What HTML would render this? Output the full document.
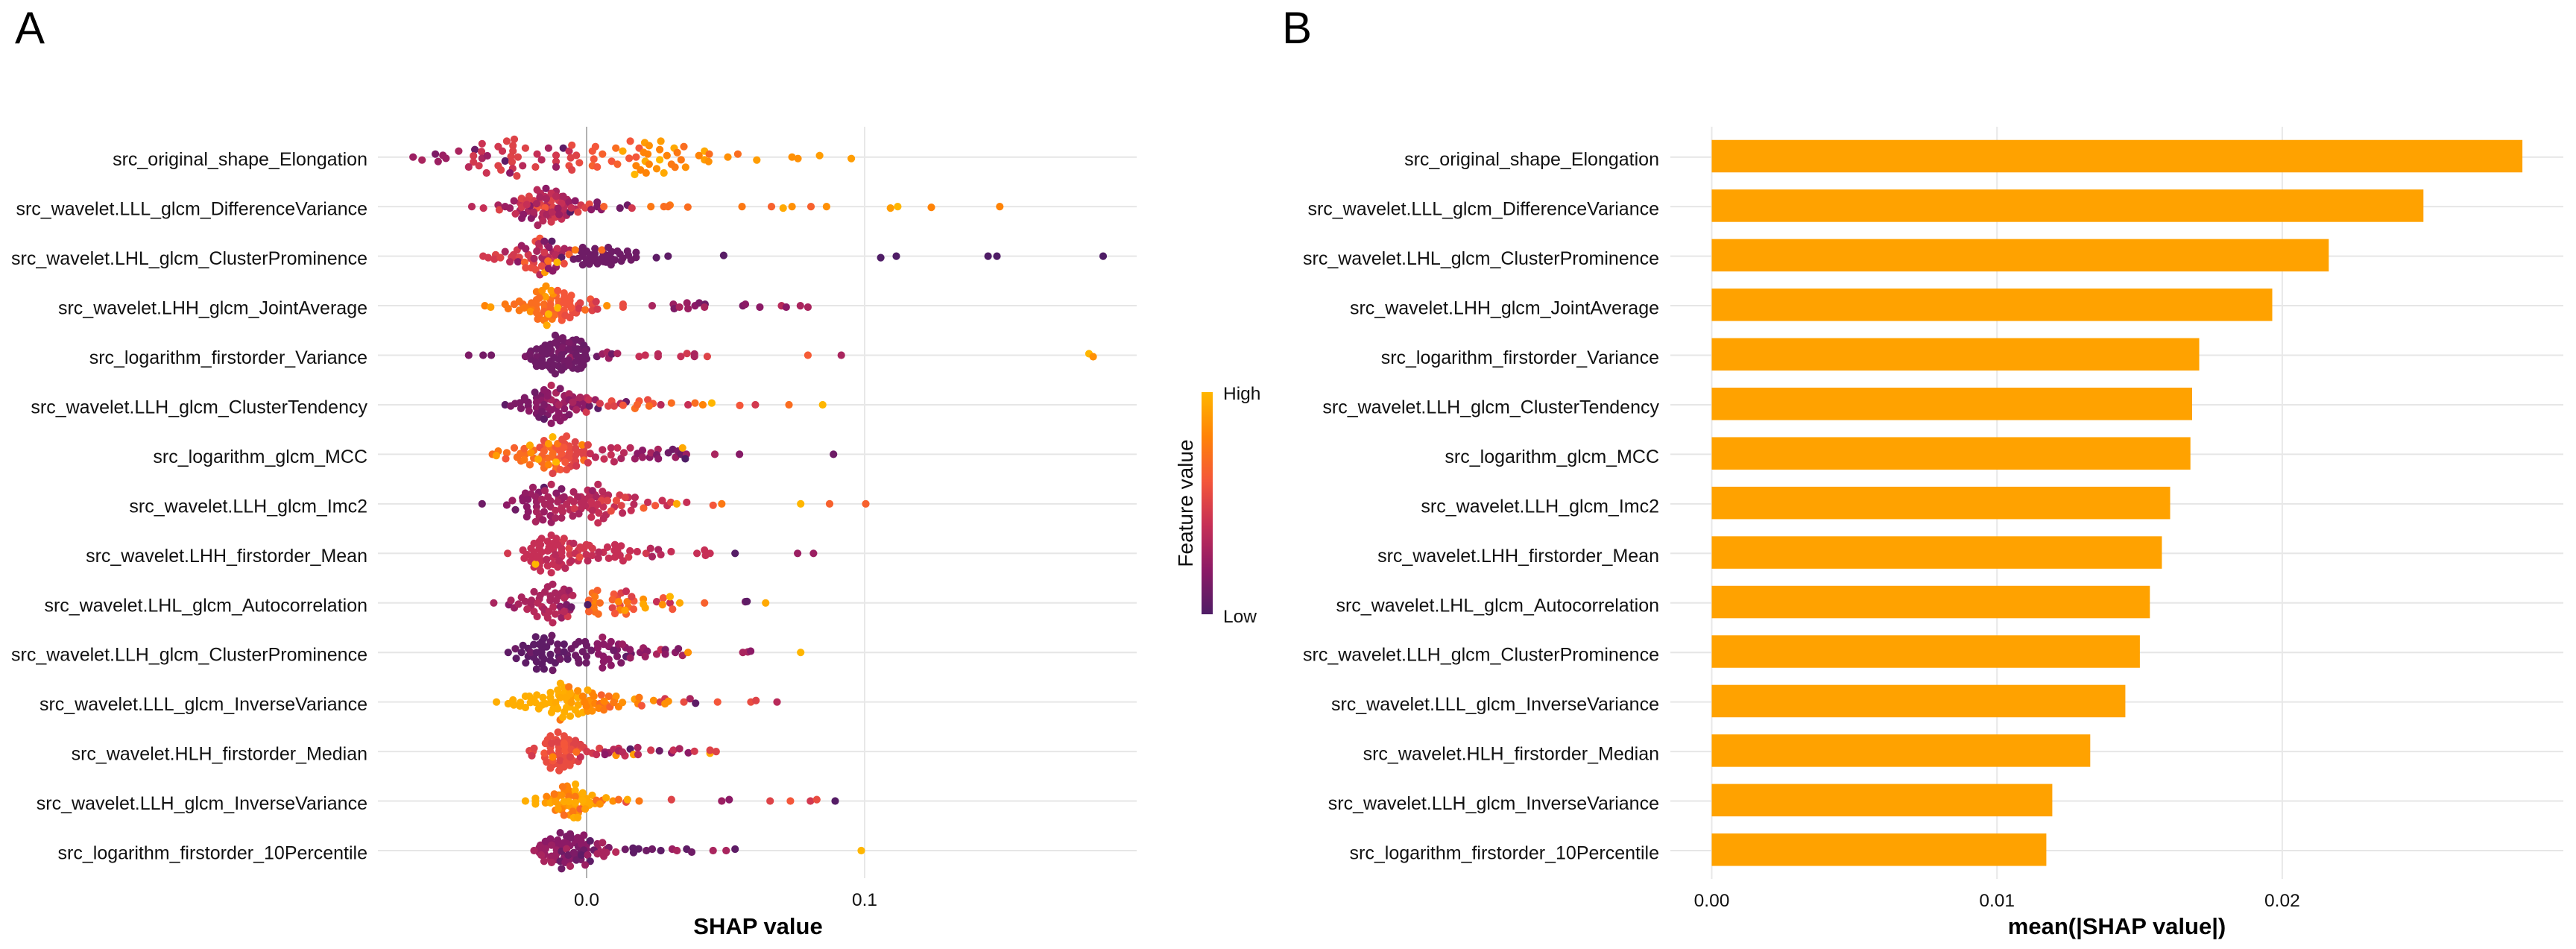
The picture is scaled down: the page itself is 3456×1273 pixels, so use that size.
<!DOCTYPE html>
<html lang="en">
<head>
<meta charset="utf-8">
<title>SHAP summary and importance</title>
<style>
html,body{margin:0;padding:0;background:#fff;}
svg{display:block;font-family:"Liberation Sans",Arial,sans-serif;}
text{fill:#111;}
</style>
</head>
<body>
<svg id="figure" xmlns="http://www.w3.org/2000/svg" width="3456" height="1273" viewBox="0 0 3456 1273">
  <defs>
    <linearGradient id="feature-gradient" x1="0" y1="1" x2="0" y2="0">
      <stop offset="0" stop-color="#4f1d66"/>
      <stop offset="0.2" stop-color="#8c1a66"/>
      <stop offset="0.4" stop-color="#c62f56"/>
      <stop offset="0.6" stop-color="#f4563a"/>
      <stop offset="0.8" stop-color="#ff8306"/>
      <stop offset="1" stop-color="#ffb600"/>
    </linearGradient>
  </defs>
  <rect x="0" y="0" width="3456" height="1273" fill="#ffffff"/>
  <g id="panel-a"></g>
  <g id="panel-b"></g>
  <text x="20" y="58" font-size="60" style="fill:#000">A</text>
  <text x="1720" y="58" font-size="60" style="fill:#000">B</text>
  <text x="1017" y="1253" font-size="31" font-weight="bold" text-anchor="middle" style="fill:#000">SHAP value</text>
  <text x="2840" y="1253" font-size="31" font-weight="bold" text-anchor="middle" style="fill:#000">mean(|SHAP value|)</text>
  <g>
    <text transform="translate(1600,675) rotate(-90)" font-size="28" text-anchor="middle">Feature value</text>
    <rect x="1612" y="526" width="15" height="298" fill="url(#feature-gradient)"/>
    <text x="1641" y="536" font-size="24.5">High</text>
    <text x="1641" y="835" font-size="24.5">Low</text>
  </g>
</svg>
<script>
// Feature names, top to bottom
const features = [
  "src_original_shape_Elongation",
  "src_wavelet.LLL_glcm_DifferenceVariance",
  "src_wavelet.LHL_glcm_ClusterProminence",
  "src_wavelet.LHH_glcm_JointAverage",
  "src_logarithm_firstorder_Variance",
  "src_wavelet.LLH_glcm_ClusterTendency",
  "src_logarithm_glcm_MCC",
  "src_wavelet.LLH_glcm_Imc2",
  "src_wavelet.LHH_firstorder_Mean",
  "src_wavelet.LHL_glcm_Autocorrelation",
  "src_wavelet.LLH_glcm_ClusterProminence",
  "src_wavelet.LLL_glcm_InverseVariance",
  "src_wavelet.HLH_firstorder_Median",
  "src_wavelet.LLH_glcm_InverseVariance",
  "src_logarithm_firstorder_10Percentile"
];
// mean(|SHAP value|) per feature
const meanShap = [0.02842,0.02495,0.02163,0.01965,0.01709,0.01684,0.01678,0.01607,0.01578,0.01536,0.01501,0.0145,0.01327,0.01194,0.01173];
const swarmTicks = [0,0.1];
const swarmTickLabels = ["0.0","0.1"];
const barTicks = [0,0.01,0.02];
const barTickLabels = ["0.00","0.01","0.02"];

// Swarm observations: [SHAP value x 1000, sina jitter in % of row band, normalised feature value]
const rowElongation = [[-62.4,0,.25],[-59.2,6,.3],[-54.4,-6,.15],[-53.4,9,.25],[-51.7,-3.5,.25],[-50.6,2.5,.25],[-46,-12,.3],[-40.2,-15,.1],[-37.6,-27,.42],[-40.7,-2.5,.45],[-37.8,-11,.42],[-37.6,2.5,.3],[-35.7,-2.5,.25],[-40.7,10,.45],[-42.4,20,.35],[-38.7,17.5,.45],[-36,32,.42],[-31.8,-21,.45],[-30.3,-12,.42],[-28.7,-32,.5],[-26,-36,.5],[-26.5,-23,.5],[-26.5,-12,.5],[-27.2,-1,.5],[-24.7,0,.5],[-29.3,8,.05],[-26.8,10,.5],[-31.8,17.5,.5],[-30.8,26,.5],[-26.6,23,.42],[-27.6,32,.2],[-25.1,38,.5],[-22,-18,.5],[-23,17.5,.35],[-18.4,20,.5],[-17.8,-6,.4],[-16.2,5.5,.35],[-13.7,-18,.3],[-11,-3.5,.45],[-11,9,.45],[-11,20,.25],[-8.4,-18,.05],[-6.3,-12,.4],[-5.3,-24,.55],[-3.7,-3.5,.5],[-5.7,1.5,.5],[-2.6,11.5,.55],[-6.3,17.5,.55],[-5.3,26,.5],[3.2,-21,.6],[2.1,-12,.6],[2.6,4,.6],[2.1,17.5,.65],[3.8,20,.6],[5.7,-6,.65],[9,8.5,.6],[11.1,14.5,.65],[10.5,-18,.7],[15.7,-32,.6],[13,-12,.95],[18.9,-18,.6],[15.3,2.5,.6],[17.8,0,.6],[20.9,-29,.9],[22.5,-23,.85],[20.5,-9.5,.8],[22,-6,.8],[21.1,8.5,.95],[22.5,14.5,.8],[17.8,17.5,.8],[19.4,26,.8],[21.4,32,.8],[17.3,35,1],[25.2,23.5,.85],[27.8,32,.95],[26.7,-32,.9],[26.3,-15,.8],[26.3,5.5,1],[28.9,-3,.8],[31.5,-18,.95],[32.6,-9,.75],[35,-21,.7],[34,5.5,.75],[30.5,14.5,.75],[31.8,20.5,.75],[35.6,20.5,.85],[42.4,-12,.95],[40.4,-3,.8],[44.1,-6,.7],[42.4,5.5,.9],[43.9,9,.85],[50.8,0,.85],[54.4,-6,.7],[61.2,6,.9],[73.9,0,.85],[76,3,.85],[83.8,-3,.9],[95.2,3,.9]];
const rowLLLDifferenceVariance = [[-24,-8,.4],[-22,-8,.45],[-24,8,.3],[-21,9,.3],[-19,-12,.45],[-19,16,.25],[-17,-8,.3],[-16,-2,.5],[-14,-6,.35],[-14,8,.3],[-12,2,.5],[-12,-18,.35],[-10,-12,.45],[-10,10,.3],[-8,-2,.35],[-8,9,.35],[-16,22,.3],[-13,22,.35],[-9,25,.4],[-7,-14,.3],[-4,5,.35],[-2,-3,.45],[-11,-31,.3],[-15,-20,.35],[-17,-14,.45],[-9,-20,.35],[-41.3,0,.35],[-37.1,3,.4],[-31.8,-3,.3],[-31.4,6.5,.5],[-29.3,0,.25],[-27.6,3,.25],[-26.1,-11.5,.25],[-25.6,14.5,.4],[-23.4,-16.5,.5],[-20.7,-20.5,.5],[-23.3,1,.45],[-23.3,23.5,.2],[-22.7,16,.2],[-19.9,23.5,.2],[-20.3,-1.5,.2],[-21.5,-12,.48],[-21.5,-4,.4],[-17.8,-34,.35],[-14.6,-36.5,.2],[-16.6,-26.5,.35],[-12.7,-26.5,.4],[-16.8,-19,.3],[-17.8,2.5,.6],[-14.9,2.5,.6],[-12.7,-11.5,.5],[-15.7,13.5,.35],[-14.4,16,.3],[-17.6,37.5,.3],[-15.7,28.5,.35],[-12.7,31,.45],[-11.3,21,.45],[-18,-6,.3],[-14.5,-16,.3],[-11,-21,.35],[-19,11,.3],[-12.3,11,.35],[-8.4,-20.5,.3],[-9,-6.5,.4],[-10.3,3.5,.25],[-9.9,16,.25],[-7.2,17.5,.3],[-5.9,11,.02],[-6.3,-9,.25],[-4.1,-11.5,.2],[-5.5,2.5,.4],[-3.1,11,.5],[-.5,2.5,.5],[1,-5,.55],[1.7,6,.2],[3.8,-9,.15],[3.8,0,.15],[5.3,6,.2],[6.2,0,.65],[12,3,.1],[14.7,-3,.1],[16.3,3,.45],[23.1,0,.75],[27.8,0,.7],[30,-3,.75],[29.3,0,.7],[36.4,1,.7],[55.9,0,.75],[66.5,0,.65],[70.7,3,.95],[73.9,0,.85],[80.7,0,.65],[86.3,0,.85],[109.3,3,.9],[111.9,0,1],[124,1.5,.8],[148.6,0,.8]];
const rowLHLClusterProminence = [[-27,2,.45],[-21,-3,.45],[-20,5,.45],[-25,6,.45],[-14,-22,.3],[-17,-18,.4],[-19,14,.5],[-12,-8,.3],[-12,4,.45],[-14,2,.35],[-16,3,.3],[-11,22,.25],[-9,-6,.3],[-6,-12,.3],[-14,17,.55],[0,-10,.1],[0,8,.1],[3,-5,.1],[3,4,.1],[6,-6,.1],[6,11,.1],[9,-9,.1],[9,5,.1],[12,-4,.1],[13,4,.1],[15,-2,.1],[-3,5,.1],[1,16,.1],[-2,-10,.1],[7,12,.1],[-37.2,0,.45],[-35.4,3,.45],[-32.7,-2.5,.5],[-33.2,6,.45],[-31,3,.5],[-29.3,-9,.3],[-27.6,11.5,.35],[-25,-12.5,.45],[-26.3,-2.5,.45],[-24.2,2.5,.5],[-24.7,11.5,.2],[-23.4,-21,.25],[-21.9,-15,.25],[-22.3,12.5,.65],[-21.9,23.5,.55],[-19.9,23.5,.55],[-18.3,27.5,.55],[-16.8,37.5,.35],[-15,32.5,.9],[-16.8,-36,.6],[-18.4,-30,.55],[-17.2,-25,.35],[-15.2,-30,.15],[-12.5,-30,.05],[-13.5,-17.5,.2],[-15.2,-7.5,.45],[-17.9,-10,.3],[-18.9,5,.3],[-15.2,10,.3],[-16.1,20,.55],[-13.7,25,.2],[-12.2,30,.2],[-10.6,-15,.4],[-11.2,-2.5,.35],[-13.9,10,.7],[-8,-15,.3],[-9,2.5,.05],[-8.1,15,.55],[-10.6,12.5,1],[-6.3,-3.5,.65],[-4.1,-12.5,.75],[-4.7,6,.1],[-1.4,-17.5,.1],[-1.4,0,.1],[-1.4,17.5,.1],[1.3,-2.5,.1],[3,-15,.1],[1.7,10,.1],[3.9,15,.1],[5.5,-12.5,.7],[5.3,5,.1],[7.8,-17.5,.1],[7.5,-1,.1],[8.8,17.5,.1],[11.1,-10,.1],[10.2,7.5,.1],[12.5,10,.1],[14.7,-10,.1],[17.8,-7.5,.1],[16,7.5,.1],[17.8,2.5,.1],[25.1,3,.05],[29.3,0,.05],[49.3,-1.5,.03],[105.8,3,0],[111.4,0,0],[144.4,0,0],[147.6,0,0],[185.8,0,0]];
const rowLHHJointAverage = [[-21,3,.75],[-18,8,.7],[-15,4,.7],[-13,-12,.7],[-11,-20,.65],[-10,-9,.65],[-11,12,.65],[-10,-1,.65],[-9,22,.65],[-14,22,.7],[-16,-22,.8],[-12,-24,.85],[-6,-10,.6],[-6,-1,.6],[-5,14,.55],[-3,-1,.55],[-13,6,.65],[-18,-12,.7],[-17,20,.7],[-8,-18,.6],[-6,24,.55],[-9,17,.6],[-20,5,.75],[-36.6,0,.8],[-34.5,3,.9],[-29.3,-3,.75],[-28.2,6,.75],[-26,-3,.7],[-24.2,-9,.72],[-22.9,-3,.7],[-24.2,9.5,.75],[-22.4,4.5,.75],[-20.2,12,.85],[-19.8,-5.5,.7],[-18,-28,.75],[-14.6,-39.5,.85],[-16,-30.5,.85],[-12.7,-30.5,.9],[-14.8,-18,.9],[-17,-15.5,.7],[-10.4,-30.5,.6],[-18,-3,.7],[-15.3,-3,.7],[-13,-3,.65],[-18,14.5,.7],[-15.3,12,.65],[-17.6,27,.7],[-15.3,29.5,.75],[-12.4,27,.75],[-14.3,39.5,.95],[-11.7,19.5,.7],[-13.7,17,1],[-10.4,4.5,1],[-8.1,-25.5,.6],[-5.5,-20.5,.6],[-8.1,-13,.6],[-7.2,-3,.6],[-8.1,9.5,.6],[-8.9,29.5,.6],[-7.7,19.5,.55],[-5.5,4.5,.6],[-8.2,-6,.6],[-3.7,14.5,.55],[-2.3,-5.5,.5],[-2.8,5.5,.45],[-.5,8.5,.7],[1.4,-13,.6],[2.1,-3,.55],[2,9.5,.5],[3.4,-8,.45],[3.9,7,.45],[7.3,0,.85],[13.1,-3,.55],[13.1,3,.55],[23.6,0,.3],[31.2,-3,.25],[31.5,6,.15],[33.4,3,.3],[36.1,-5.5,.25],[36.5,6,.25],[39,0,.2],[40.5,-5.5,.15],[42.6,-3,.1],[42.4,3,.3],[56.2,0,.15],[57.1,-3,.2],[62.3,3,.2],[70.1,0,.35],[71.8,3,.2],[76.9,0,.3],[79.6,3,.3]];
const rowFirstorderVariance = [[-20,-8,.1],[-20,8,.1],[-16,-14,.1],[-16,-2,.12],[-16,14,.1],[-13,-22,.1],[-13,-4,.12],[-13,12,.1],[-13,26,.1],[-10,-32,.12],[-10,-18,.12],[-10,-6,.15],[-10,8,.1],[-10,22,.1],[-8,-26,.12],[-8,-8,.1],[-8,12,.12],[-8,24,.1],[-5,-30,.1],[-5,-20,.12],[-5,-10,.1],[-5,-1,.12],[-5,14,.1],[-5,26,.1],[-2,-28,.1],[-2,-12,.08],[-2,5,.1],[-2,16,.1],[-2,26,.1],[0,-12,.08],[0,7,.1],[-16,22,.1],[-18,22,.1],[-42.4,0,.15],[-37.2,0,.12],[-34.3,0,.12],[-22,2.5,.15],[-20.4,-2.5,.12],[-18,-12.5,.1],[-17.9,2.5,.12],[-18.4,14,.1],[-14.9,-20,.1],[-14.4,-2.5,.1],[-14.4,20,.1],[-16,-8,.1],[-16,9,.1],[-11.3,-40,.1],[-8.6,-35,.12],[-11.3,-25,.12],[-12.7,-10,.12],[-11.7,5,.1],[-11.7,20,.1],[-11.3,37.5,.1],[-9,30,.1],[-8.6,-15,.15],[-9,0,.1],[-6.3,-25,.15],[-5.9,5,.25],[-6.3,20,.12],[-3.7,-31,.1],[-3.2,-12.5,.1],[-3.7,0,.1],[-3.2,27.5,.1],[-1,-20,.08],[-.5,0,.1],[-1.2,20,.1],[-3.7,12.5,.1],[-.5,-8,.1],[-14,-12,.1],[-12.5,30,.1],[-6.5,10,.12],[-6.5,-12,.12],[-1,10,.1],[3.7,2.5,.1],[5.7,-2.5,.25],[7.4,-6,.3],[8,6,.25],[9.1,-2.5,.1],[11.1,-3.5,.3],[18.9,2.5,.4],[21.1,0,.4],[25.7,-2.5,.35],[25.7,2.5,.35],[33.9,2.5,.4],[36.1,-3.5,.45],[38.8,-2.5,.3],[38.8,2.5,.3],[43.4,2.5,.5],[79.6,0,.62],[91.6,0,.3],[180.7,-3,1],[182.2,3,.85]];
const rowClusterTendency = [[-24,-4,.15],[-21,-5,.15],[-21,3,.15],[-18,-14,.15],[-18,6,.2],[-18,18,.15],[-16,-20,.15],[-16,-9,.2],[-16,8,.15],[-14,-24,.2],[-14,-12,.25],[-14,5,.2],[-14,20,.15],[-11,-24,.3],[-11,-5,.25],[-11,7,.2],[-11,26,.2],[-8,-18,.25],[-8,-5,.25],[-8,8,.2],[-8,25,.2],[-5,-16,.25],[-5,4,.2],[-3,-10,.3],[-1,-5,.2],[-1,8,.2],[0,-14,.35],[-29.3,0,.05],[-27.3,2.5,.15],[-25.7,-2.5,.15],[-23.6,7.5,.15],[-22.3,-10,.15],[-22.3,-14,.15],[-20.7,12.5,.2],[-18.6,-25,.1],[-17.1,25,.1],[-15.3,29,.05],[-12.7,37.5,.2],[-9.5,32.5,.2],[-6.3,20,.15],[-18,-5,.2],[-15.3,0,.15],[-12.7,-10,.3],[-12.7,10,.2],[-10,0,.3],[-10,17.5,.2],[-9.5,-32.5,.15],[-12.7,-39,.35],[-15.3,-30,.2],[-6.3,-22,.3],[-6.3,-10,.2],[-3.2,0,.2],[-3.7,10,.3],[-2.3,-15,.3],[-5,-5,.3],[-16,14,.12],[-14,-18,.2],[-.1,15,.45],[1,2.5,.1],[.8,-10,.4],[3.1,-10,.25],[4.1,7.5,.05],[4.8,-2.5,.45],[7.8,2.5,.5],[9,-7.5,.55],[9.9,2.5,.5],[12.2,-2.5,.35],[14.2,-6,.1],[13.1,1,.6],[17.4,7.5,.7],[18.9,-7.5,.6],[18.2,0,.65],[22,-10,.55],[23.9,-2.5,.6],[22.5,2.5,.7],[26.7,0,.35],[30.5,-3.5,.7],[36.5,0,.4],[39,-3.5,.7],[41.8,0,.8],[45,-3.5,1],[55.1,1.5,.6],[60.7,0,.45],[72.8,0,.7],[84.9,0,1]];
const rowGlcmMCC = [[-25,6,.7],[-22,0,.7],[-19,-8,.7],[-19,8,.7],[-15,-18,.65],[-13,-14,.7],[-14,8,.7],[-12,6,.7],[-11,-14,.6],[-10,-9,.6],[-10,9,.6],[-11,22,.6],[-8,-22,.55],[-8,7,.55],[-6,-8,.55],[-6,8,.55],[-5,22,.55],[-4,-12,.5],[-4,2,.5],[-4,14,.5],[-6,25,.5],[-1,-8,.5],[-16,3,.65],[-33.9,0,.7],[-31.8,-6.5,.75],[-32.5,2.5,.9],[-28.7,-3,.7],[-29.1,9,.6],[-26,-13,.65],[-23.8,-1.5,.7],[-22.4,-11.5,.65],[-20,-3,.85],[-23.6,13.5,.7],[-22.4,11,.75],[-20.4,21,.7],[-20.4,-18,.95],[-16.8,-14,.55],[-15.3,-27.5,.55],[-13.7,-21.5,.9],[-10.4,-21.5,.75],[-15.3,-6.5,.65],[-12.2,-1.5,.7],[-16.1,16,.7],[-15.3,27.5,.7],[-13.7,21,.8],[-17.4,10,.95],[-12.2,-35,1],[-11,16,1],[-11,30,.7],[-12.2,38.5,.5],[-8.8,-30,.55],[-7.2,-36.5,.55],[-6.3,-16.5,.55],[-4.1,-25,.5],[-9,-1.5,.6],[-6.3,-1.5,.55],[-7.7,16,.6],[-9.5,31,.6],[-7.2,31,.55],[-3.7,23.5,.45],[-8.2,-14,.6],[-1.6,-19,.8],[.5,-19,.5],[-2.3,-4,.5],[-1,3.5,.5],[-1,12,.7],[.5,17,.45],[1.3,-1.5,.4],[3.2,6,.35],[5.7,-9,.35],[6.3,9.5,.4],[8.8,-13,.35],[8.8,1,.4],[9.9,15,.35],[11.1,-13,.4],[12.4,8.5,.3],[13.4,-3,.35],[15.7,-13,.35],[17.4,9,.25],[18.3,-1.5,.2],[20.1,-8,.2],[20.1,6,.25],[22.7,6,.2],[23.2,-3,.3],[25.7,-10,.3],[25.2,1,.15],[25.8,9,.2],[29.4,-3,.1],[31,-10,.1],[32,6,.25],[32.9,-6.5,.15],[34,0,.1],[35.9,0,.25],[35.5,9,0],[34.5,-13,.95],[46.1,0,.3],[55,0,.18],[88.8,0,.1]];
const rowImc2 = [[-20,-20,.25],[-23,-12,.2],[-18,-4,.25],[-18,6,.25],[-17,26,.3],[-13,-6,.3],[-13,6,.3],[-13,24,.25],[-10,-12,.3],[-9,8,.35],[-9,-8,.25],[-6,-8,.35],[-6,12,.35],[-2,-14,.35],[-2,-2,.35],[-2,10,.35],[1,-14,.35],[1,8,.4],[3,-18,.35],[3,8,.4],[6,-14,.4],[6,6,.4],[7,22,.35],[10,6,.4],[15,-13,.4],[-37.6,0,.1],[-28.7,2.5,.2],[-26.7,-6.5,.25],[-25.6,12,.1],[-22,-21.5,.22],[-22.9,-6.5,.2],[-21.1,-9,.2],[-21.5,6,.2],[-21,16,.2],[-21.5,26,.2],[-19.3,-33,.25],[-15.3,-33,.05],[-17.2,-23,.2],[-15,-26.5,.3],[-18.3,-14,.25],[-16.1,-9,.3],[-13.9,-14,.3],[-15,1,.3],[-18,16,.3],[-18.3,36,.3],[-15.3,16,.25],[-15.7,32.5,.25],[-12.7,-39,.35],[-12.7,37.5,.25],[-10.9,-21.5,.2],[-9,-30,.15],[-8.1,-14,.25],[-10.4,-4,.3],[-11.2,13.5,.35],[-8.6,16,.35],[-11.2,28.5,.3],[-9,28.5,.3],[-7.2,1,.35],[-4.7,-24,.3],[-3.2,-14,.3],[-4.6,-4,.35],[-4.4,9.5,.45],[-5,24.5,.3],[-2.8,20,.3],[-.5,-9,.35],[-.5,3.5,.35],[.4,-27.5,.35],[2.1,-26.5,.25],[4.1,-39,.35],[5.7,-25,.35],[7.8,-17.5,.35],[3.5,-14,.3],[1.7,-4,.4],[5.3,-6.5,.5],[7.5,-6.5,.5],[3.9,1,.4],[2.1,13.5,.35],[1.7,27,.4],[4.4,18.5,.4],[6.1,29.5,.35],[4.1,38.5,.4],[8.8,14.5,.55],[11.9,-17.5,.45],[13.9,-13,.5],[10.7,-6.5,.55],[12.5,3.5,.5],[12.9,18.5,.35],[17.4,-13,.35],[17,1,.35],[16,13.5,.4],[20.5,8.5,.65],[22,-3,.4],[24.7,3.5,.6],[27.2,-6.5,.4],[29,3.5,.4],[30.3,-3,.5],[32.4,0,.95],[36,-3,.4],[45.5,3,.6],[48.6,0,.75],[77,0,1],[87.4,0,.65],[100.4,0,.65]];
const rowFirstorderMean = [[-20,-10,.4],[-20,6,.4],[-20,16,.4],[-17,-24,.4],[-17,-10,.4],[-17,6,.4],[-17,25,.4],[-14,-24,.4],[-14,-5,.4],[-14,25,.4],[-12,-20,.4],[-12,-8,.4],[-12,8,.4],[-12,22,.4],[-9,-22,.45],[-9,-10,.4],[-9,6,.4],[-9,22,.4],[-6,-20,.4],[-6,2,.45],[-6,18,.4],[-3,-6,.45],[-3,15,.4],[-1,-10,.45],[2,4,.4],[1,-16,.45],[6,-2,.4],[10,-6,.4],[12,4,.4],[-28.4,0,.45],[-22.9,-6.5,.4],[-21.5,2.5,.4],[-22.4,10,.4],[-18.9,-20,.4],[-16.2,-30,.4],[-12.7,-36.5,.4],[-16.6,-17.5,.4],[-18.9,-2.5,.4],[-16.2,-2.5,.4],[-18.9,27.5,.4],[-16.2,15,.4],[-16.6,35,.4],[-12.7,39,.4],[-10.4,27.5,.4],[-14.4,12.5,.35],[-13.5,-12.5,.4],[-10.4,-17.5,.4],[-10.9,-30,.4],[-8.1,-30,.45],[-11.2,2.5,.35],[-9,-2.5,.4],[-9.9,15,.35],[-7.7,30,.35],[-18.4,21.5,1],[-18,8,.4],[-6.3,-10,.5],[-4.7,-20,.35],[-4.1,0,.4],[-5.5,15,.35],[-2.3,-12.5,.45],[-2.5,7.5,.55],[-.1,-17.5,.45],[-.1,2.5,.4],[.4,15,.35],[2.1,-10,.45],[4.4,-2.5,.35],[4.2,10,.35],[7.5,-12.5,.4],[10.2,-17.5,.4],[12.4,-15,.4],[8,10,.4],[10.2,7.5,.4],[11.1,-5,.4],[13.1,15,.4],[15.6,-5,.4],[15.1,7.5,.45],[18.2,-3.5,.4],[21.4,0,.45],[23,-10,.35],[23.6,6.5,.3],[25.8,-7.5,.3],[26.7,2.5,.35],[30.4,-3.5,.4],[39.7,0,.4],[42.4,-6.5,.4],[42.8,4,.4],[44.4,0,.4],[53.4,0,.02],[75.9,0,.25],[81.6,0,.25]];
const rowAutocorrelation = [[-22,-3,.3],[-20,6,.3],[-17,-8,.3],[-16,8,.35],[-15,20,.35],[-13,-14,.3],[-12,8,.35],[-10,-14,.3],[-9,18,.35],[-7,-16,.3],[-6,14,.25],[-15,-22,.3],[-9,-20,.3],[1,10,.75],[3,0,.8],[3,18,.7],[12,5,.55],[11,-12,.55],[15,8,.7],[12,14,.8],[17,-4,.6],[-33.4,0,.3],[-28,3.5,.2],[-27.2,-5,.3],[-26,10,.25],[-23.4,-11.5,.3],[-24.5,2.5,.3],[-21.4,12.5,.35],[-18.9,-22.5,.3],[-16.7,-15,.3],[-19.8,-5,.3],[-17.6,0,.35],[-18.9,17.5,.35],[-17.8,27.5,.35],[-15.3,12.5,.3],[-14,-32.5,.3],[-12.2,-37.5,.3],[-11.3,-20,.3],[-13.1,-5,.3],[-10.9,-5,.3],[-13.5,17.5,.35],[-12.2,40,.35],[-11.3,22.5,.35],[-14,30,.35],[-8.1,-27.5,.3],[-6.3,-25,.25],[-5,-15,.35],[-8,-10,.35],[-9.5,7.5,.2],[-7.2,3.5,.15],[-5.5,8.5,.1],[-9,30,.25],[-6.8,27.5,.45],[-8.1,17.5,.35],[2.1,-20,.7],[3.9,-25,.65],[3,-12.5,.75],[4.8,0,.7],[.8,-5,.65],[2.6,10,.75],[.8,17.5,.65],[4.2,22.5,.7],[.4,3.5,0],[9.8,-17.5,.6],[9.3,-6.5,.65],[12.4,-20,.5],[14.2,-23.5,.4],[11.5,-2.5,.8],[14.6,-2.5,.75],[16.2,-12.5,.5],[9.3,10,.5],[10.2,21.5,.6],[14.2,22.5,.65],[13.8,15,.9],[16.9,12.5,.6],[20.4,-7.5,.85],[20.4,2.5,.95],[21.1,10,.95],[25.2,-2.5,.4],[27.6,-10,.6],[27.3,3.5,.85],[30,0,.4],[30.9,12.5,.6],[30,-12.5,1],[33.5,0,.95],[42.4,0,.65],[57.1,-2.5,.1],[57.7,-3,.05],[64.4,0,.95]];
const rowLLHClusterProminence = [[-21,-8,.05],[-21,8,.05],[-19,-16,.05],[-19,10,.05],[-16,-22,.05],[-16,-8,.05],[-16,8,.05],[-16,24,.05],[-13,-22,.07],[-13,4,.05],[-13,16,.05],[-10,8,.05],[-7,5,.08],[-4,-16,.1],[-4,6,.1],[-3,14,.1],[0,-14,.1],[0,8,.1],[4,-9,.2],[6,8,.2],[8,-12,.2],[8,14,.2],[11,-6,.15],[11,8,.15],[14,-10,.2],[16,3,.1],[-28.2,0,.05],[-25.6,-7.5,.1],[-22.9,-14,.05],[-23.4,0,.05],[-25.3,12,.05],[-21.9,21,.05],[-20.1,0,.1],[-18.3,-31.5,.05],[-12.5,-34,.1],[-15.3,-29,.05],[-17,-16.5,.05],[-18,0,.05],[-16.2,0,.05],[-14.4,-11.5,.05],[-15.3,13.5,.05],[-18,18.5,.05],[-18,33.5,.05],[-15.3,33.5,.05],[-12.2,36,.1],[-11.3,21,.05],[-10.4,-16.5,.08],[-8.1,-16.5,.05],[-10.4,-4,.1],[-8.1,-1.5,.05],[-9.5,13.5,.1],[-6.8,13.5,.05],[-5.5,-7.5,.1],[-2.8,-21.5,.1],[-.5,-21.5,.1],[-1.4,-1.5,.1],[-2.8,21,.1],[-.1,21,.1],[1.7,-4,.1],[5.7,-30.5,.25],[3.9,-17.5,.2],[6.1,-16.5,.2],[4.3,3.5,.2],[6.1,18.5,.2],[5.7,31,.2],[8.8,-21.5,.2],[8.8,26,.2],[9.7,-4,.1],[11.5,-16.5,.2],[12.4,21,.15],[12.9,-16.5,.25],[14.2,8.5,.05],[15.6,-5.5,.2],[15.7,11,.25],[19.3,0,.2],[20.4,-9,.25],[21.8,-2.5,.2],[21.1,8.5,.25],[25.2,3.5,.3],[26.7,-5.5,.4],[28.3,-5.5,.15],[28.3,3.5,.2],[31.9,0,.2],[33,-7.5,.15],[34.5,6,.3],[36.5,0,.85],[56.2,0,.3],[58,-1,.3],[59,-2.5,.2],[77,0,1]];
const rowLLLInverseVariance = [[-24,8,.97],[-19,-5,.97],[-16,6,.97],[-13,-9,.97],[-11,8,.97],[-8,-18,.97],[-8,20,.97],[-6,-20,.95],[-6,10,.97],[-3,6,.95],[-3,24,.95],[-1,-2,.9],[1,10,.85],[1,-3,.85],[2,18,.85],[-10,-14,.97],[-12,14,.97],[-5,-12,.9],[3,3,.8],[7,5,.75],[10,-3,.8],[2,-18,.8],[-7,-3,.95],[-32.4,0,.97],[-28.2,3.5,.97],[-26.5,-4,.97],[-26.2,6,.97],[-23.8,1,.97],[-22,-11.5,.97],[-20.6,-11.5,.97],[-22,11,.97],[-20.2,1,.97],[-17.9,-14,.97],[-18.4,1,.97],[-15.7,-9,.97],[-17.2,13.5,.97],[-14.8,3.5,.97],[-13,-19,.97],[-13,1,.97],[-12.6,21,.97],[-11.2,1,.95],[-10.4,13.5,.97],[-9.4,-37.5,.97],[-10.4,-24,.97],[-8.1,-29,.97],[-6.4,-30.5,.75],[-9.5,-9,.95],[-7.7,-9,.95],[-7.2,11,.97],[-9.5,36,.75],[-8.6,31,.97],[-5.9,28.5,.97],[-5.9,-16.5,.95],[-5.5,1,.9],[-4.1,16,.97],[-3.2,-9,.97],[-3.2,-22.5,.85],[-1.4,21,.97],[-1.4,-11.5,.8],[-.7,1,.8],[.4,-24,.95],[.4,18.5,.85],[-.1,8.5,.8],[2.6,-11.5,.8],[5.3,-14,.65],[8,-11.5,.7],[10.6,-11.5,.85],[4.8,3.5,.7],[6.3,-1.5,.8],[4.4,12.5,.8],[6.2,16,.75],[8.4,10,.65],[11.5,9.5,.8],[9.7,1,.75],[12.9,1,.85],[17.3,-5.5,.9],[18.9,-9,.75],[18.5,3.5,.8],[19.8,7.5,.6],[24.1,-3,.85],[26.5,0,.5],[28.2,-6.5,.45],[29.4,-1.5,.85],[28.2,3.5,.85],[35,0,.55],[37.2,-6.5,.3],[39.2,2.5,.05],[47.1,0,.6],[59.1,0,.55],[60.9,-3,.5],[68.5,0,.35]];
const rowHLHMedian = [[-13,-8,.55],[-11,-24,.55],[-10,-10,.55],[-8,-24,.55],[-12,8,.55],[-10,8,.55],[-10,26,.55],[-7,8,.55],[-6,-14,.55],[-6,28,.55],[-5,18,.55],[-3,-5,.55],[-4,-22,.5],[-14,-24,.55],[-12,26,.55],[-8,-10,.6],[-8,10,.55],[-15,12,.55],[-1,-8,.5],[-3,20,.5],[-20.6,-1.5,.5],[-19.3,0,.55],[-19.7,8.5,.45],[-18.9,-6.5,.5],[-14.8,-16.5,.55],[-13,-31.5,.55],[-10.3,-39,.55],[-8.1,-31.5,.55],[-6.4,-24,.55],[-12.6,-16.5,.5],[-10.4,-19,.5],[-8.1,-16.5,.6],[-4.6,-14,.5],[-2.2,-14,.5],[-15.2,3.5,.6],[-13,1,.55],[-9.9,-1.5,.55],[-7.7,-1.5,.6],[-5.5,-4,.55],[-14.4,21,.55],[-13,33.5,.55],[-9.9,38.5,.55],[-12.2,18.5,.6],[-9.5,18.5,.5],[-7.3,21,.55],[-8.1,31,.55],[-5.9,11,.5],[-2.2,11,.4],[-3.7,1,.7],[-12.2,11,.8],[.1,0,.45],[2.1,3.5,.45],[4.6,-6.5,.5],[3.5,6,.4],[6.6,1,.25],[8,2.5,.25],[6.6,6,.2],[9.7,-4,.35],[11.5,-6.5,.4],[10.6,7.5,.85],[11.5,-1.5,.3],[13.8,8.5,.4],[12.9,1,.35],[15.7,-5,.03],[18.4,-8,.3],[16.9,6,.9],[18.5,6,.35],[23.1,-2.5,.45],[26.2,-1.5,.1],[30.6,2.5,.2],[31.2,-2.5,.4],[33.4,-5.5,.3],[36.6,2.5,.2],[38.8,-.5,.45],[44.4,3.5,.95],[44.4,-2.5,.5],[46.6,0,.5]];
const rowLLHInverseVariance = [[-12,-6,.9],[-10,-12,.85],[-10,8,.9],[-8,-20,.8],[-8,10,.85],[-6,-16,.8],[-6,10,.9],[-6,28,.85],[-4,-14,.9],[-4,12,.9],[-3,-4,.95],[-3,24,.85],[-1,8,.95],[-9,18,.8],[-11,-6,.85],[-2,-9,.95],[0,-5,.95],[1,8,.95],[-7,-30,.8],[3,5,.9],[-22,0,.97],[-18.4,0,.97],[-18.4,-5.5,.97],[-18.4,6,.97],[-14.4,-9,.8],[-14.8,3.5,.9],[-13,3.5,.95],[-11.2,18.5,.75],[-10.3,16,.9],[-11.6,-14,.75],[-8.6,-29,.75],[-6.4,-21.5,.8],[-4,-34,.97],[-4.1,-21.5,.97],[-9,-11.5,.85],[-6.4,-9,.75],[-4.1,-9,.75],[-11.2,1,.9],[-8.1,1,.95],[-6.4,1,.95],[-4.1,3.5,.95],[-8.1,28.5,.7],[-5,21,.75],[-4.6,33.5,.97],[-3.2,33.5,.95],[-2.3,16,.65],[-1.4,-16.5,.97],[-1.4,-1.5,.97],[-.5,16,.9],[2,-11.5,.95],[1.3,3.5,.95],[3.5,-1.5,.7],[5.7,-1.5,.7],[4.8,6,.85],[7,-6.5,.95],[9.5,0,.85],[11.5,-3,.7],[14.2,2,.55],[14.7,-3,.95],[18.9,0,.75],[30.5,-3,.5],[48.6,0,.25],[51.3,-3,.2],[66,0,.5],[73.3,0,.6],[80.5,0,.45],[82.8,-3,.55],[89.4,0,.02]];
const rowPercentile10 = [[-17,-6,.25],[-17,4,.25],[-15,8,.25],[-14,-12,.22],[-13,16,.3],[-11,-14,.2],[-11,8,.25],[-11,18,.25],[-9,-10,.2],[-8,12,.2],[-7,-20,.2],[-6,-10,.2],[-6,17,.2],[-4,-16,.2],[-4,10,.15],[-2,-20,.2],[-2,2,.1],[-2,18,.15],[0,-12,.2],[0,-2,.2],[4,-4,.25],[5,3,.3],[7,-2,.3],[-3,-8,.15],[-18.9,0,.3],[-16.6,-11,.25],[-14.8,-18.5,.2],[-13,-23.5,.2],[-16.3,9,.3],[-14.8,-3.5,.25],[-15.3,21.5,.3],[-12.6,-11,.25],[-12.6,11.5,.25],[-12.6,24,.3],[-10.8,-1,.25],[-9.5,-36,.15],[-10.4,-21,.2],[-7.2,-28.5,.15],[-5.9,-33.5,.15],[-8.1,-16,.2],[-9,1.5,.1],[-7.2,-3.5,.3],[-6.6,9,.1],[-9.5,21.5,.1],[-7.7,24,.2],[-9,36.5,.1],[-5.9,31.5,.3],[-4.6,4,.15],[-5.5,-26,.15],[-3.2,-26,.2],[-1,-31,.2],[1.3,-19.5,.05],[-1.9,-13.5,.2],[-1,-1,.1],[-3.7,19,.1],[-1.9,9,.05],[.4,9,.25],[1.3,21.5,.05],[-.5,29,.25],[2.6,-1,.1],[3.9,-13.5,.25],[5.7,-16,.3],[3.9,6.5,.3],[6.2,11.5,.3],[8,-6,.15],[7.1,4,.3],[10.5,3,.35],[13.9,-2.5,.1],[16.7,-5,.05],[16.9,4,.05],[18.7,-3.5,.05],[21.5,0,.1],[23.6,-3,.1],[26.7,0,.05],[30.8,-3,.25],[32.5,0,.3],[36,-3,.05],[37.8,3,.1],[45.5,0,.3],[50.2,0,.3],[53.4,-3,.05],[98.8,0,1]];
const swarmRows = [rowElongation,rowLLLDifferenceVariance,rowLHLClusterProminence,rowLHHJointAverage,rowFirstorderVariance,rowClusterTendency,rowGlcmMCC,rowImc2,rowFirstorderMean,rowAutocorrelation,rowLLHClusterProminence,rowLLLInverseVariance,rowHLHMedian,rowLLHInverseVariance,rowPercentile10];

// Colour scale stops, low to high
const rampStops = [[79,29,102],[140,26,102],[198,47,86],[244,86,58],[255,131,6],[255,182,0]];

const NS = 'http://www.w3.org/2000/svg';
const panelA = document.getElementById('panel-a');
const panelB = document.getElementById('panel-b');
const rowTop = 210.7;
const rowStep = 66.45;
function rowY(i){ return rowTop + rowStep * i; }
function xSwarm(v){ return 787 + 3730 * v; }
function xBar(v){ return 2296.5 + 38270 * v; }
function jitterPx(j){ return j / 100 * rowStep; }
function featureColor(f){
  const t = Math.max(0, Math.min(1, f)) * (rampStops.length - 1);
  const k = Math.min(rampStops.length - 2, Math.floor(t));
  const u = t - k;
  const c = rampStops[k].map((a, n) => Math.round(a + (rampStops[k + 1][n] - a) * u));
  return 'rgb(' + c.join(',') + ')';
}
function make(parent, tag, attrs, content){
  const el = document.createElementNS(NS, tag);
  for (const key in attrs) el.setAttribute(key, attrs[key]);
  if (content !== undefined) el.textContent = content;
  parent.appendChild(el);
  return el;
}

// Panel A: grid
features.forEach((name, i) => {
  const grid = make(panelA, 'line', {x1:507, x2:1525, y1:rowY(i), y2:rowY(i), stroke:'#e6e6e6', 'stroke-width':2});
  
  
});
swarmTicks.forEach((tick, i) => {
  const grid = make(panelA, 'line', {x1:xSwarm(tick), x2:xSwarm(tick), y1:170, y2:1178, stroke:tick === 0 ? '#b2b2b2' : '#e8e8e8', 'stroke-width':2});
  
  
  const label = make(panelA, 'text', {x:xSwarm(tick), y:1215, 'font-size':24.5, 'text-anchor':'middle'}, swarmTickLabels[i]);
  
  
});
// Panel A: row labels and points
features.forEach((name, i) => {
  const label = make(panelA, 'text', {x:493, y:rowY(i) + 11.5, 'font-size':25, 'text-anchor':'end'}, name);
  
  
  const group = make(panelA, 'g', {});
  
  
  swarmRows[i].forEach(point => {
    const dot = make(group, 'circle', {cx:xSwarm(point[0] / 1000).toFixed(1), cy:(rowY(i) + jitterPx(point[1])).toFixed(1), r:5.1, fill:featureColor(point[2])});
    
    
  });
});

// Panel B: grid, labels, bars
features.forEach((name, i) => {
  const grid = make(panelB, 'line', {x1:2241, x2:3439, y1:rowY(i), y2:rowY(i), stroke:'#e6e6e6', 'stroke-width':2});
  
  
  const label = make(panelB, 'text', {x:2226, y:rowY(i) + 11.5, 'font-size':25, 'text-anchor':'end'}, name);
  
  
});
barTicks.forEach((tick, i) => {
  const grid = make(panelB, 'line', {x1:xBar(tick), x2:xBar(tick), y1:170, y2:1179, stroke:'#e8e8e8', 'stroke-width':2});
  
  
  const label = make(panelB, 'text', {x:xBar(tick), y:1216, 'font-size':24.5, 'text-anchor':'middle'}, barTickLabels[i]);
  
  
});
meanShap.forEach((value, i) => {
  const bar = make(panelB, 'rect', {x:xBar(0), y:rowY(i) - 1.2 - 21.75, width:(xBar(value) - xBar(0)).toFixed(1), height:43.5, fill:'#ffa200'});
  
  
});
</script>
</body>
</html>
